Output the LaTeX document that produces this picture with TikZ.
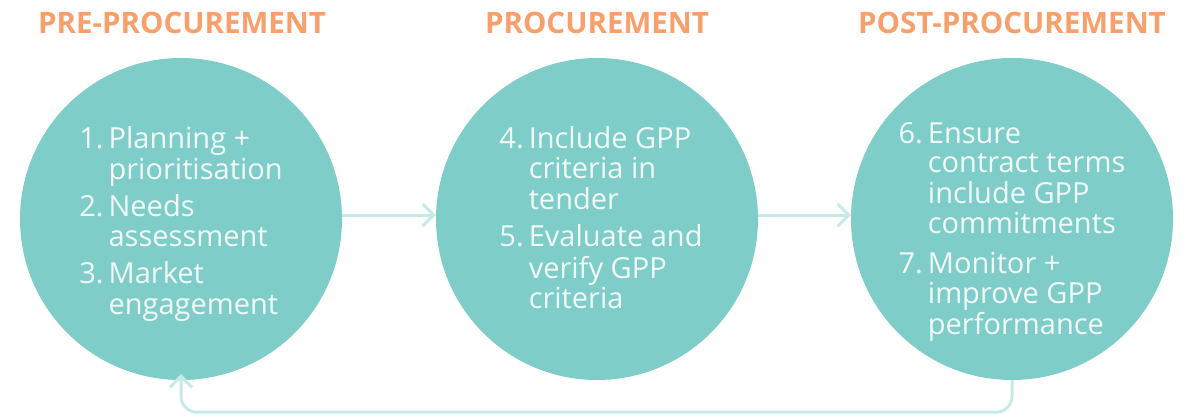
\documentclass[tikz,border=0pt]{standalone}
\usepackage{fontspec}
\setmainfont{Open Sans}
\usepackage{xcolor}
\usepackage{tikz}
\usetikzlibrary{arrows.meta}

\definecolor{gppteal}{RGB}{126,205,200}
\definecolor{gpporange}{RGB}{248,160,108}
\definecolor{gppflow}{RGB}{198,234,231}
\definecolor{gpptext}{RGB}{242,250,249}

\begin{document}
\begin{tikzpicture}[x=1pt, y=-1pt,
        stage/.style={circle, fill=gppteal, minimum size=322pt, inner sep=0pt},
        steps/.style={inner sep=0pt, text=gpptext, font=\fontsize{29}{30.5}\selectfont},
        phase/.style={text=gpporange, font=\fontsize{29.5}{32}\selectfont\bfseries},
        flow/.style={draw=gppflow, line width=3pt, -{Straight Barb[length=11pt, width=22pt]}}]
        \useasboundingbox (0,0) rectangle (1184,415);

        \node[phase] (pretitle) at (182,23) {PRE-PROCUREMENT};
        \node[phase] (proctitle) at (597,23) {PROCUREMENT};
        \node[phase] (posttitle) at (1012,23) {POST-PROCUREMENT};

        \node[stage] (pre) at (181,219) {};
        \node[stage] (proc) at (597,219) {};
        \node[stage] (post) at (1012,219) {};

        \node[steps] (pretext) at (181,225) {\begin{tabular}{@{}l@{\hspace{5pt}}l@{}}
            1. & Planning +\\ & prioritisation\\[6pt]
            2. & Needs\\ & assessment\\[6pt]
            3. & Market\\ & engagement
        \end{tabular}};
        \node[steps] (proctext) at (601,222) {\begin{tabular}{@{}l@{\hspace{5pt}}l@{}}
            4. & Include GPP\\ & criteria in\\ & tender\\[6pt]
            5. & Evaluate and\\ & verify GPP\\ & criteria
        \end{tabular}};
        \node[steps, font=\fontsize{29}{28.8}\selectfont] (posttext) at (1012,233) {\begin{tabular}{@{}l@{\hspace{5pt}}l@{}}
            6. & Ensure\\ & contract terms\\ & include GPP\\ & commitments\\[11pt]
            7. & Monitor +\\ & improve GPP\\ & performance
        \end{tabular}};

        \draw[flow] ([yshift=4pt]pre.east) -- ([yshift=4pt]proc.west);
        \draw[flow] ([yshift=4pt]proc.east) -- ([yshift=4pt]post.west);
        \draw[flow, rounded corners=16pt, shorten >=-6pt] (post.south) -- ++(0,32) -| (pre.south);
    \end{tikzpicture}
\end{document}
